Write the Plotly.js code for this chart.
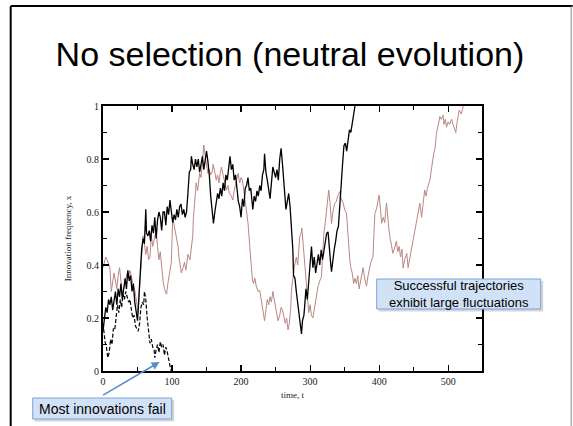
<!DOCTYPE html>
<html>
<head>
<meta charset="utf-8">
<script src="https://cdn.plot.ly/plotly-3.0.1.min.js"></script>
<style>
html,body{margin:0;padding:0;background:#fff;}
#chart{width:573px;height:426px;}
</style>
</head>
<body>
<div id="chart"></div>
<script>
// Successful trajectory 1 (black solid)
var blackT = [0,2,4,6,8,10,12,14,16,18,20,22,24,26,28,30,32,34,36,38,40,42,44,46,48,50,52,54,56,58,60,62,63,65,67,69,71,73,75,77,79,81,83,85,87,89,91,93,95,97,99,101,103,105,107,109,111,113,115,117,119,121,123,125,127,128,130,132,134,136,138,140,142,144,146,148,150,152,154,156,158,160,162,164,166,168,170,172,174,176,178,180,182,184,186,188,190,192,194,196,198,200,202,204,206,208,210,212,214,216,217,219,221,223,225,227,229,231,233,234,236,238,240,242,244,246,248,250,252,254,256,258,260,262,264,265,267,269,271,273,275,276,278,280,282,284,286,287.5,289,291,292,294,296,298,300,302,304,306,308,310,312,314,316,318,320,322,324,326,328,330,331,333,335,337,339,341,343,345,347,349,351,353,355,357,359,361,363,365];
var blackX = [0.15,0.19,0.24,0.22,0.27,0.25,0.28,0.23,0.27,0.30,0.25,0.31,0.28,0.33,0.27,0.32,0.35,0.31,0.38,0.34,0.36,0.30,0.33,0.26,0.22,0.19,0.28,0.40,0.46,0.50,0.48,0.61,0.52,0.51,0.53,0.49,0.55,0.52,0.58,0.50,0.57,0.60,0.58,0.53,0.60,0.60,0.55,0.62,0.59,0.645,0.60,0.56,0.59,0.57,0.61,0.58,0.62,0.63,0.59,0.61,0.58,0.60,0.67,0.75,0.76,0.81,0.78,0.76,0.80,0.77,0.80,0.75,0.78,0.81,0.76,0.80,0.83,0.79,0.74,0.66,0.61,0.557,0.60,0.645,0.67,0.65,0.69,0.66,0.71,0.68,0.74,0.72,0.77,0.81,0.76,0.78,0.72,0.74,0.69,0.64,0.62,0.58,0.65,0.62,0.69,0.70,0.73,0.68,0.69,0.64,0.61,0.66,0.64,0.68,0.66,0.70,0.68,0.74,0.76,0.82,0.75,0.72,0.68,0.65,0.71,0.77,0.75,0.73,0.76,0.72,0.80,0.84,0.78,0.71,0.65,0.61,0.64,0.67,0.62,0.55,0.457,0.36,0.35,0.30,0.26,0.22,0.18,0.14,0.19,0.21,0.24,0.31,0.27,0.35,0.40,0.47,0.39,0.43,0.37,0.41,0.44,0.40,0.457,0.42,0.46,0.49,0.52,0.525,0.44,0.40,0.375,0.43,0.46,0.49,0.53,0.545,0.64,0.727,0.78,0.85,0.86,0.83,0.88,0.91,0.90,0.94,0.97,1.0];

// Successful trajectory 2 (pink solid)
var pinkT = [0,2,4,6,8,10,12,14,16,18,20,22,24,26,28,30,33,35,37,39,41,43,46,48,51,53,55.6,58,60,62,64,66,68,70,72,74,77,79,81,83,85,87,89,92,94,96,99,101,103,106,108.7,110,112,113.6,116,118,120,123,126,128,130,131,133,135,137,140,142,144,146,148,150,152,154,156,158,159.5,162,164,166,168,170,171.6,174,176,178.8,181,183,186,188,190,192,194,195.7,198,200,202,204,206,208,210,212.6,214,216.5,218,220,222,224.6,227,229,231,234,236,238,240,242,244,246,248,250,252,253.6,256,258,260,262,264,266,268,270,272,273,275,277,280,282,285,287,288,290,292,294.7,296,298,300,302,304,306,308,310,311.6,314,316.5,318,320,322,323.7,325,327,329,331,333,335.8,338,340,343,345,348,350,352.7,354,356.5,357.5,359,361,363,365,367,369,371,373,375,376.8,379,381.7,384,386,388,391,392,393.8,396,398,400,402,403.5,406,408,410.7,412,414,415.5,418,420,422,425,427,429,431,433,434.8,437,440,442,444,446,449,451,453.8,456,459,461.5,464,466,468,470,473.5,476,479,481,483,485,488,490,492.6,494,496,497.6,500,502,505,507,509,511,513,516,519,522];
var pinkX = [0.39,0.41,0.43,0.42,0.40,0.39,0.30,0.33,0.37,0.34,0.31,0.36,0.39,0.34,0.29,0.31,0.34,0.37,0.35,0.38,0.36,0.33,0.305,0.27,0.22,0.31,0.42,0.51,0.48,0.44,0.47,0.42,0.43,0.51,0.47,0.50,0.53,0.47,0.42,0.45,0.38,0.34,0.31,0.29,0.33,0.37,0.41,0.58,0.55,0.51,0.47,0.43,0.40,0.37,0.39,0.41,0.38,0.44,0.42,0.47,0.51,0.58,0.66,0.71,0.68,0.746,0.73,0.79,0.853,0.81,0.77,0.746,0.76,0.74,0.75,0.78,0.75,0.72,0.74,0.71,0.75,0.77,0.74,0.71,0.683,0.70,0.67,0.66,0.645,0.68,0.70,0.73,0.746,0.71,0.73,0.72,0.68,0.65,0.62,0.56,0.47,0.42,0.343,0.33,0.35,0.32,0.30,0.305,0.27,0.24,0.19,0.23,0.27,0.25,0.28,0.26,0.30,0.27,0.24,0.22,0.19,0.21,0.24,0.23,0.20,0.18,0.20,0.155,0.18,0.24,0.305,0.35,0.39,0.43,0.40,0.507,0.52,0.54,0.47,0.40,0.33,0.27,0.22,0.25,0.21,0.20,0.23,0.27,0.30,0.32,0.34,0.356,0.43,0.52,0.56,0.595,0.64,0.683,0.63,0.557,0.60,0.633,0.64,0.66,0.677,0.65,0.633,0.61,0.595,0.54,0.47,0.42,0.39,0.37,0.33,0.35,0.33,0.36,0.31,0.34,0.37,0.39,0.35,0.32,0.36,0.39,0.41,0.43,0.50,0.595,0.61,0.64,0.664,0.61,0.557,0.58,0.56,0.633,0.58,0.54,0.507,0.47,0.444,0.46,0.49,0.45,0.47,0.43,0.46,0.388,0.42,0.444,0.39,0.42,0.45,0.494,0.52,0.557,0.60,0.633,0.58,0.63,0.683,0.66,0.69,0.72,0.77,0.82,0.84,0.897,0.92,0.96,0.95,0.965,0.93,0.95,0.92,0.94,0.93,0.95,0.93,0.91,0.90,0.94,0.985,0.97,1.0];

// Failed innovation (black dashed)
var failT = [0,1.5,3,5,7,9,11,13,15,17,19,21,23,25,27,29,31,33,35,37,39,41,43,45,47,49,51,53,55,57,59,60,62,64,66,68,70,72,74,75,77,79,81,83,85,87,89,91,93,95,97,99];
var failX = [0.18,0.14,0.11,0.09,0.05,0.07,0.12,0.10,0.16,0.155,0.20,0.25,0.22,0.27,0.24,0.29,0.27,0.30,0.28,0.26,0.27,0.23,0.20,0.21,0.17,0.16,0.15,0.18,0.24,0.26,0.25,0.30,0.27,0.20,0.15,0.105,0.12,0.09,0.08,0.05,0.08,0.10,0.07,0.11,0.09,0.10,0.06,0.09,0.073,0.04,0.02,0.0];

var xTicks = [0,100,200,300,400,500];
var yTicks = [0,0.2,0.4,0.6,0.8,1];
var yTickText = ['0','0.2','0.4','0.6','0.8','1'];

var titleText = 'No selection (neutral evolution)';
var note1 = 'Most innovations fail';
var note2 = 'Successful trajectories<br>exhibit large fluctuations';

var traces = [
  {x: pinkT, y: pinkX, type: 'scatter', mode: 'lines', line: {color: '#bb8684', width: 1}, hoverinfo: 'skip'},
  {x: blackT, y: blackX, type: 'scatter', mode: 'lines', line: {color: '#000000', width: 1.3}, hoverinfo: 'skip'},
  {x: failT, y: failX, type: 'scatter', mode: 'lines', line: {color: '#000000', width: 1.2, dash: '4px,2px'}, hoverinfo: 'skip'}
];

// plot area in pixels: left 103.3, right 482.3, top 106, bottom 371
function px(x){ return (x - 103.3) / 379; }
function py(y){ return (371 - y) / 265; }

var serif = 'Liberation Serif, Times New Roman, serif';
var sans = 'Liberation Sans, Arial, sans-serif';

var layout = {
  width: 573, height: 426,
  margin: {l: 103.3, r: 90.7, t: 106, b: 55},
  paper_bgcolor: '#ffffff', plot_bgcolor: '#ffffff',
  showlegend: false,
  title: {text: titleText, x: 0.506, xref: 'container', xanchor: 'center', y: 0.873, yref: 'container', yanchor: 'middle',
          font: {family: sans, size: 34, color: '#000'}},
  xaxis: {
    range: [0, 549], tickvals: xTicks, ticktext: xTicks.map(String),
    ticks: 'inside', ticklen: 6, tickwidth: 1.2, tickcolor: '#000',
    minor: {dtick: 50, tick0: 0, ticks: 'inside', ticklen: 4, tickwidth: 1, tickcolor: '#000'},
    showline: true, linecolor: '#000', linewidth: 2, mirror: 'allticks',
    showgrid: false, zeroline: false,
    tickfont: {family: serif, size: 10, color: '#222'},
    title: {text: 'time, t', font: {family: serif, size: 9, color: '#222'}, standoff: 6}
  },
  yaxis: {
    range: [0, 1], tickvals: yTicks, ticktext: yTickText,
    ticks: 'inside', ticklen: 6, tickwidth: 1.2, tickcolor: '#000',
    minor: {dtick: 0.1, tick0: 0, ticks: 'inside', ticklen: 4, tickwidth: 1, tickcolor: '#000'},
    showline: true, linecolor: '#000', linewidth: 2, mirror: 'allticks',
    showgrid: false, zeroline: false,
    tickfont: {family: serif, size: 10, color: '#222'},
    title: {text: 'Innovation frequency, x', font: {family: serif, size: 9, color: '#222'}, standoff: 13}
  },
  shapes: [
    // slide border
    {type: 'line', xref: 'paper', yref: 'paper', x0: px(11), x1: px(573), y0: py(6), y1: py(6), line: {color: '#000', width: 2}},
    {type: 'line', xref: 'paper', yref: 'paper', x0: px(11), x1: px(11), y0: py(6), y1: py(426), line: {color: '#000', width: 2}},
    {type: 'line', xref: 'paper', yref: 'paper', x0: px(571.5), x1: px(571.5), y0: py(6), y1: py(426), line: {color: '#888', width: 1}},
    // box shadows
    {type: 'rect', xref: 'paper', yref: 'paper', x0: px(35), x1: px(174.5), y0: py(421.5), y1: py(400), fillcolor: 'rgba(0,0,0,0.16)', line: {width: 0}, layer: 'above'},
    {type: 'rect', xref: 'paper', yref: 'paper', x0: px(379), x1: px(543.5), y0: py(311.5), y1: py(281), fillcolor: 'rgba(0,0,0,0.16)', line: {width: 0}, layer: 'above'},
    // boxes
    {type: 'rect', xref: 'paper', yref: 'paper', x0: px(33), x1: px(172), y0: py(419), y1: py(398), fillcolor: '#d2e2f6', line: {color: '#79a3d8', width: 1}, layer: 'above'},
    {type: 'rect', xref: 'paper', yref: 'paper', x0: px(377), x1: px(541), y0: py(309), y1: py(279), fillcolor: '#d2e2f6', line: {color: '#79a3d8', width: 1}, layer: 'above'}
  ],
  annotations: [
    {xref: 'paper', yref: 'paper', x: px(102.5), y: py(408.5), xanchor: 'center', yanchor: 'middle', showarrow: false,
     text: note1, font: {family: sans, size: 14, color: '#000'}},
    {xref: 'paper', yref: 'paper', x: px(459), y: py(294), xanchor: 'center', yanchor: 'middle', showarrow: false, align: 'center',
     text: note2, font: {family: sans, size: 13, color: '#000'}},
    // arrow
    {xref: 'x', yref: 'y', x: 82, y: 0.034, text: '', showarrow: true, arrowhead: 2, arrowsize: 1, arrowwidth: 1.6,
     arrowcolor: '#5a8dca', ax: -58, ay: 34, standoff: 0}
  ]
};

Plotly.newPlot('chart', traces, layout, {staticPlot: true, displayModeBar: false});
</script>
</body>
</html>
